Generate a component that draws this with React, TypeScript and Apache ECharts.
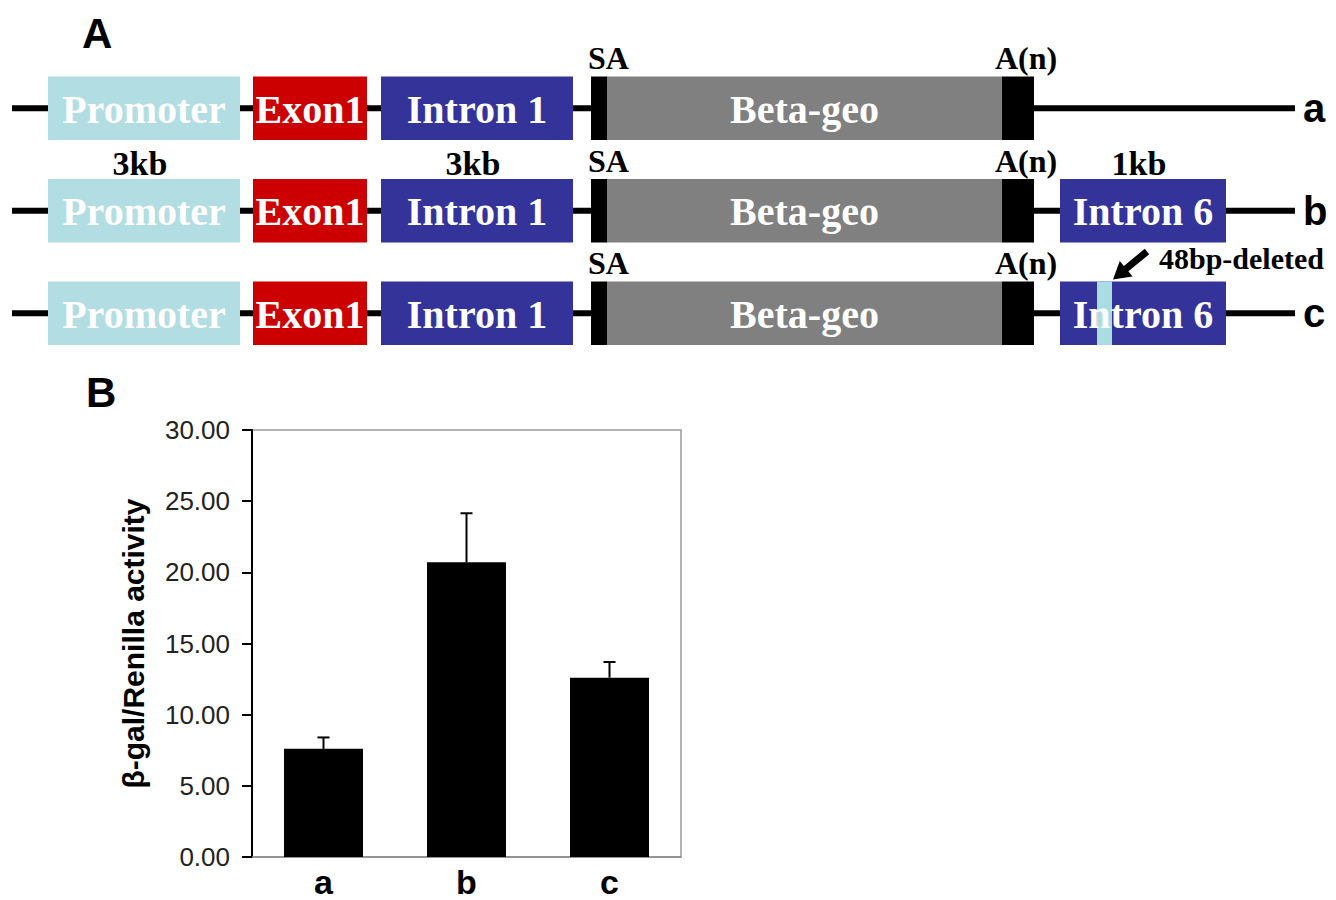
import React, { useEffect, useRef } from "react";
import * as echarts from "echarts";

// ---------- Panel A: construct diagram ----------
const rowNames = ["a", "b", "c"];
const partNames = ["Promoter", "Exon1", "Intron 1", "SA", "Beta-geo", "A(n)", "Intron 6"];
const partStart = [48, 253, 381, 591, 607, 1002, 1060];
const partEnd = [240, 367, 573, 607, 1002, 1034, 1226];
const partColors = ["#b2dde2", "#cc0000", "#333399", "#000000", "#808080", "#000000", "#333399"];
const partInnerText = [true, true, true, false, true, false, true];
const partAboveText = [false, false, false, true, false, true, false];
const rowParts = [
  [0, 1, 2, 3, 4, 5],
  [0, 1, 2, 3, 4, 5, 6],
  [0, 1, 2, 3, 4, 5, 6],
];
const backboneStart = 12;
const backboneEnd = 1295;
// size annotations (row b)
const sizeRow = 1;
const sizeParts = [0, 2, 6];
const sizeLabels = ["3kb", "3kb", "1kb"];
// deletion in Intron 6 (row c)
const deletedRow = 2;
const deletedPart = 6;
const deletedStart = 1097;
const deletedEnd = 1112;
const deletedLabel = "48bp-deleted";

// ---------- Panel B: bar chart ----------
const categories = ["a", "b", "c"];
const means = [7.6, 20.7, 12.6];
const sds = [0.8, 3.45, 1.1];
const yTicks = [0, 5, 10, 15, 20, 25, 30];

const SERIF = "'Liberation Serif', 'DejaVu Serif', serif";
const SANS = "'Liberation Sans', Arial, sans-serif";
const NARROW = "'Liberation Sans Narrow', 'Arial Narrow', 'Liberation Sans', sans-serif";

function arrowPoints(tx: number, ty: number, px: number, py: number) {
  const dx = px - tx, dy = py - ty;
  const L = Math.sqrt(dx * dx + dy * dy);
  const ux = dx / L, uy = dy / L;
  const nx = -uy, ny = ux;
  const head = 17, hw = 10, sw = 3.5;
  const bx = px - ux * head, by = py - uy * head;
  return [
    [tx + nx * sw, ty + ny * sw],
    [bx + nx * sw, by + ny * sw],
    [bx + nx * hw, by + ny * hw],
    [px, py],
    [bx - nx * hw, by - ny * hw],
    [bx - nx * sw, by - ny * sw],
    [tx - nx * sw, ty - ny * sw],
  ];
}

export default function App() {
  const ref = useRef<HTMLDivElement>(null);
  useEffect(() => {
    if (!ref.current) return;
    const chart = echarts.init(ref.current, undefined, { renderer: "svg" });

    const partData: number[][] = [];
    rowParts.forEach((parts, r) => {
      parts.forEach((p) => partData.push([partStart[p], r, partEnd[p], p]));
    });

    const backboneSeries = rowNames.map((_, r) => ({
      type: "line",
      xAxisIndex: 0,
      yAxisIndex: 0,
      data: [
        [backboneStart, r],
        [backboneEnd, r],
      ],
      symbol: "none",
      silent: true,
      z: 1,
      lineStyle: { color: "#000", width: 6 },
    }));

    const option: any = {
      animation: false,
      backgroundColor: "#ffffff",
      title: [
        {
          text: "A",
          left: 82,
          top: 12,
          padding: 0,
          textStyle: { fontSize: 42, fontWeight: "bold", fontFamily: SANS, color: "#000" },
        },
        {
          text: "B",
          left: 86,
          top: 371,
          padding: 0,
          textStyle: { fontSize: 42, fontWeight: "bold", fontFamily: SANS, color: "#000" },
        },
      ],
      grid: [
        { left: 0, right: 36, top: 57, height: 307.5, show: false },
        {
          left: 252,
          right: 655,
          top: 430,
          bottom: 43,
          show: true,
          borderColor: "#9a9a9a",
          borderWidth: 1.5,
        },
      ],
      xAxis: [
        { type: "value", gridIndex: 0, min: 0, max: 1300, show: false },
        {
          type: "category",
          gridIndex: 1,
          data: categories,
          axisLine: { show: true, lineStyle: { color: "#8a8a8a", width: 1.5 } },
          axisTick: { show: false },
          axisLabel: {
            fontSize: 34,
            lineHeight: 34,
            fontWeight: "bold",
            fontFamily: SANS,
            color: "#000",
            margin: 8,
          },
        },
      ],
      yAxis: [
        {
          type: "category",
          gridIndex: 0,
          data: rowNames,
          inverse: true,
          position: "right",
          axisLine: { show: false },
          axisTick: { show: false },
          splitLine: { show: false },
          axisLabel: {
            fontSize: 40,
            fontWeight: "bold",
            fontFamily: SANS,
            color: "#000",
            margin: 3,
          },
        },
        {
          type: "value",
          gridIndex: 1,
          min: yTicks[0],
          max: yTicks[yTicks.length - 1],
          interval: 5,
          splitLine: { show: false },
          axisLine: { show: true, lineStyle: { color: "#000", width: 2 } },
          axisTick: { show: true, length: 10, lineStyle: { color: "#000", width: 2 } },
          axisLabel: {
            fontSize: 26,
            fontFamily: NARROW,
            color: "#222",
            margin: 22,
            formatter: (v: number) => v.toFixed(2),
          },
          name: "\u03b2-gal/Renilla activity",
          nameLocation: "middle",
          nameRotate: 90,
          nameGap: 104,
          nameTextStyle: {
            fontSize: 30,
            fontWeight: "bold",
            fontFamily: SANS,
            color: "#000",
          },
        },
      ],
      series: [
        ...backboneSeries,
        {
          type: "custom",
          xAxisIndex: 0,
          yAxisIndex: 0,
          clip: false,
          z: 3,
          data: partData,
          encode: { x: [0, 2], y: 1 },
          renderItem: (params: any, api: any) => {
            const s = api.value(0);
            const r = api.value(1);
            const e = api.value(2);
            const p = api.value(3);
            const p0 = api.coord([s, r]);
            const p1 = api.coord([e, r]);
            const band = api.size([0, 1])[1];
            const h = band * 0.62;
            const top = p0[1] - h / 2;
            const cx = (p0[0] + p1[0]) / 2;
            const children: any[] = [
              {
                type: "rect",
                shape: { x: p0[0], y: top, width: p1[0] - p0[0], height: h },
                style: { fill: partColors[p] },
              },
            ];
            if (r === deletedRow && p === deletedPart) {
              const d0 = api.coord([deletedStart, r]);
              const d1 = api.coord([deletedEnd, r]);
              children.push({
                type: "rect",
                shape: { x: d0[0], y: top, width: d1[0] - d0[0], height: h },
                style: { fill: "#a9dde2" },
              });
              const tipX = d1[0] + 1;
              const tipY = top - 2;
              const tailX = tipX + 34;
              const tailY = tipY - 28;
              children.push({
                type: "polygon",
                shape: { points: arrowPoints(tailX, tailY, tipX, tipY) },
                style: { fill: "#000" },
              });
              children.push({
                type: "text",
                style: {
                  text: deletedLabel,
                  x: tailX + 12,
                  y: tailY + 7,
                  align: "left",
                  verticalAlign: "middle",
                  fill: "#000",
                  fontSize: 30,
                  fontWeight: "bold",
                  fontFamily: SERIF,
                },
              });
            }
            if (partInnerText[p]) {
              children.push({
                type: "text",
                style: {
                  text: partNames[p],
                  x: cx,
                  y: p0[1] + 1,
                  align: "center",
                  verticalAlign: "middle",
                  fill: "#ffffff",
                  fontSize: 40,
                  fontWeight: "bold",
                  fontFamily: SERIF,
                },
              });
            }
            if (partAboveText[p]) {
              children.push({
                type: "text",
                style: {
                  text: partNames[p],
                  x: p0[0] - (p === 3 ? 3 : 7),
                  y: top - 18,
                  align: "left",
                  verticalAlign: "middle",
                  fill: "#000",
                  fontSize: 32,
                  fontWeight: "bold",
                  fontFamily: SERIF,
                },
              });
            }
            if (r === sizeRow) {
              const k = sizeParts.indexOf(p);
              if (k >= 0) {
                children.push({
                  type: "text",
                  style: {
                    text: sizeLabels[k],
                    x: cx - 4,
                    y: top - 15,
                    align: "center",
                    verticalAlign: "middle",
                    fill: "#000",
                    fontSize: 34,
                    fontWeight: "bold",
                    fontFamily: SERIF,
                  },
                });
              }
            }
            return { type: "group", children };
          },
        },
        {
          type: "bar",
          xAxisIndex: 1,
          yAxisIndex: 1,
          data: means,
          barWidth: 79,
          itemStyle: { color: "#000" },
          z: 2,
        },
        {
          type: "custom",
          xAxisIndex: 1,
          yAxisIndex: 1,
          z: 3,
          data: means.map((m, i) => [i, m, m + sds[i]]),
          encode: { x: 0, y: [1, 2] },
          renderItem: (params: any, api: any) => {
            const i = api.value(0);
            const lo = api.coord([i, api.value(1)]);
            const hi = api.coord([i, api.value(2)]);
            const cw = 6;
            return {
              type: "group",
              children: [
                {
                  type: "line",
                  shape: { x1: lo[0], y1: lo[1], x2: hi[0], y2: hi[1] },
                  style: { stroke: "#000", lineWidth: 2 },
                },
                {
                  type: "line",
                  shape: { x1: hi[0] - cw, y1: hi[1], x2: hi[0] + cw, y2: hi[1] },
                  style: { stroke: "#000", lineWidth: 2 },
                },
              ],
            };
          },
        },
      ],
    };
    chart.setOption(option);
    return () => chart.dispose();
  }, []);
  return (
    <div
      ref={ref}
      style={{ position: "absolute", left: 0, top: 0, width: 1336, height: 900 }}
    />
  );
}
